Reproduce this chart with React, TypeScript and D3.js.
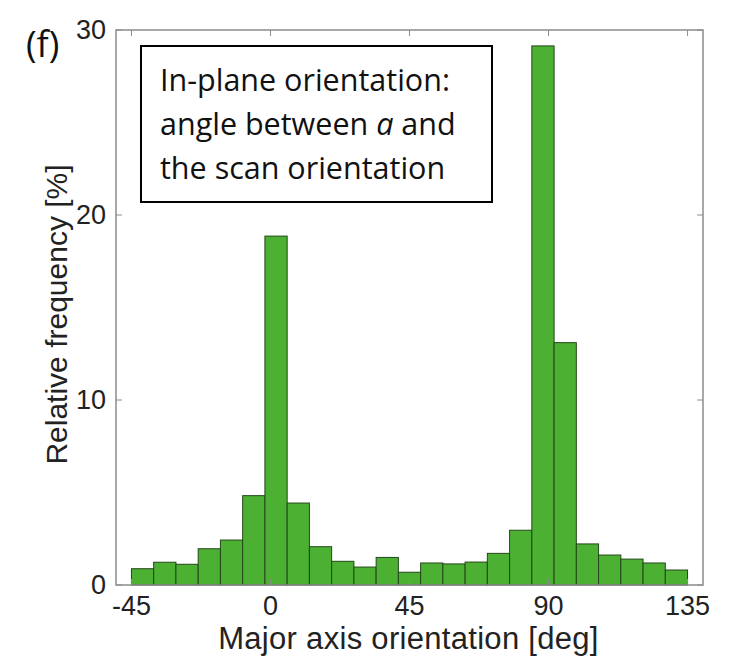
import * as d3 from 'd3';

// histogram bins: left edges in degrees, width 7.2 deg
const binStart = -45;
const binWidth = 7.2;
const frequencies = [
  0.88, 1.23, 1.12, 1.96, 2.43, 4.83, 18.86, 4.43, 2.07, 1.28, 0.97, 1.49, 0.69,
  1.19, 1.14, 1.24, 1.71, 2.96, 29.14, 13.1, 2.22, 1.62, 1.4, 1.19, 0.81,
];
const xTicks = [-45, 0, 45, 90, 135];
const yTicks = [0, 10, 20, 30];
const boxLines = ['In-plane orientation:', 'angle between ', 'the scan orientation'];

const W = 751;
const H = 656;
const margin = { top: 30, right: 48, bottom: 71, left: 116 };

export default function App() {
  const innerW = W - margin.left - margin.right;
  const innerH = H - margin.top - margin.bottom;

  const x = d3.scaleLinear().domain([-50, 140]).range([0, innerW]);
  const y = d3.scaleLinear().domain([0, 30]).range([innerH, 0]);

  const axisColor = '#8c8c8c';
  const tickLen = 6;
  const tickFont = '"Liberation Sans", Arial, sans-serif';

  return (
    <svg width={W} height={H} style={{ display: 'block', position: 'absolute', left: 0, top: 0 }}>
      <rect width={W} height={H} fill="#fff" />
      <text x={26} y={57} fontFamily='"Open Sans", sans-serif' fontSize={36} fill="#111">(f)</text>
      <g transform={`translate(${margin.left},${margin.top})`}>
        {frequencies.map((f, i) => {
          const x0 = binStart + i * binWidth;
          return (
            <rect
              key={i}
              x={x(x0)}
              y={y(f)}
              width={x(x0 + binWidth) - x(x0)}
              height={y(0) - y(f)}
              fill="#4cb133"
              stroke="#24461a"
              strokeWidth={1}
            />
          );
        })}
        {/* axes box */}
        <rect x={0} y={0} width={innerW} height={innerH} fill="none" stroke={axisColor} strokeWidth={1.5} />
        {xTicks.map((t) => (
          <g key={'x' + t}>
            <line x1={x(t)} x2={x(t)} y1={innerH} y2={innerH - tickLen} stroke={axisColor} />
            <line x1={x(t)} x2={x(t)} y1={0} y2={tickLen} stroke={axisColor} />
            <text
              x={x(t)}
              y={innerH + 30}
              textAnchor="middle"
              fontFamily={tickFont}
              fontSize={27}
              fill="#222"
            >
              {t}
            </text>
          </g>
        ))}
        {yTicks.map((t) => (
          <g key={'y' + t}>
            <line x1={0} x2={tickLen} y1={y(t)} y2={y(t)} stroke={axisColor} />
            <line x1={innerW} x2={innerW - tickLen} y1={y(t)} y2={y(t)} stroke={axisColor} />
            <text
              x={-10}
              y={y(t) + 9}
              textAnchor="end"
              fontFamily={tickFont}
              fontSize={27}
              fill="#222"
            >
              {t}
            </text>
          </g>
        ))}
        <text
          x={innerW / 2 - 1}
          y={innerH + 64}
          textAnchor="middle"
          fontFamily={tickFont}
          fontSize={31}
          letterSpacing={0.3}
          fill="#222"
        >
          Major axis orientation [deg]
        </text>
        <text
          transform={`translate(${-49},${innerH / 2 + 7}) rotate(-90)`}
          textAnchor="middle"
          fontFamily={tickFont}
          fontSize={30}
          fill="#222"
        >
          Relative frequency [%]
        </text>
      </g>
      {/* annotation box */}
      <rect x={141} y={46} width={351} height={156} fill="#fff" stroke="#000" strokeWidth={2} />
      <g fontFamily='"Open Sans", sans-serif' fontSize={30.5} fill="#111">
        <text x={160} y={91}>{boxLines[0]}</text>
        <text x={160} y={135}>
          {boxLines[1]}
          <tspan fontStyle="italic">a</tspan> and
        </text>
        <text x={160} y={179}>{boxLines[2]}</text>
      </g>
    </svg>
  );
}
